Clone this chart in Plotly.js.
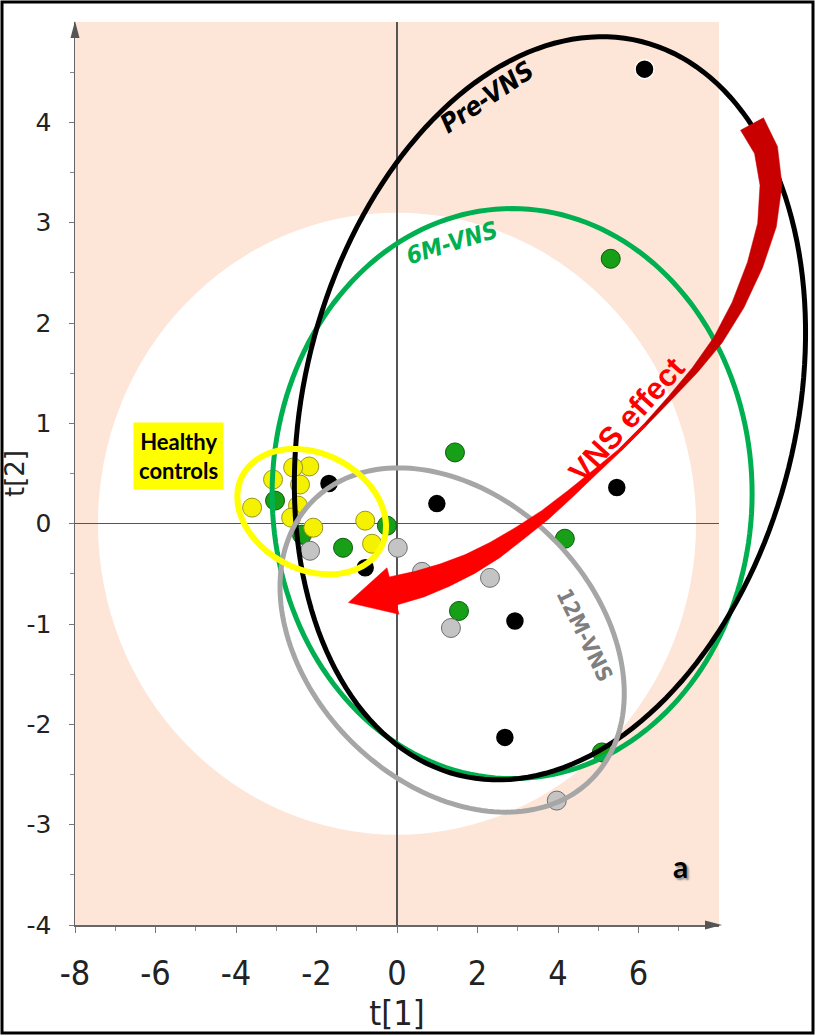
<!DOCTYPE html>
<html>
<head>
<meta charset="utf-8">
<script src="https://cdn.plot.ly/plotly-3.0.1.min.js"></script>
<style>
  html, body { margin: 0; padding: 0; background: #ffffff; }
  #chart { width: 815px; height: 1035px; }
</style>
</head>
<body>
<div id="chart"></div>
<script>
// PCA scores, t[1] vs t[2], per group
const preX  = [6.15, 5.46, 0.99, -1.69, -0.79, 2.93, 2.68];
const preY  = [4.53, 0.36, 0.20, 0.40, -0.44, -0.97, -2.13];
const m6X   = [5.31, 1.44, 4.17, 1.54, 5.09, -3.03, -2.36, -1.34, -0.25];
const m6Y   = [2.64, 0.71, -0.15, -0.87, -2.28, 0.23, -0.11, -0.24, -0.02];
const m12X  = [-2.16, 0.02, 0.62, 2.31, 1.34, 3.97];
const m12Y  = [-0.27, -0.24, -0.48, -0.54, -1.04, -2.76];
const hcX   = [-2.18, -2.58, -3.08, -2.41, -3.60, -2.46, -2.63, -2.08, -0.79, -0.62];
const hcY   = [0.57, 0.56, 0.44, 0.39, 0.16, 0.18, 0.06, -0.04, 0.03, -0.20];

const xTicks = [-8, -6, -4, -2, 0, 2, 4, 6];
const yTicks = [-4, -3, -2, -1, 0, 1, 2, 3, 4];

// Hotelling T2 ellipse half-widths (t[1], t[2])
const hotelling = [7.43, 3.1];

// ---- layout geometry ----
const W = 815, H = 1035;
const M = { l: 75, r: 96, t: 22, b: 110 };
const xRange = [-8, 8], yRange = [-4, 5];
const plotW = W - M.l - M.r, plotH = H - M.t - M.b;
const kx = plotW / (xRange[1] - xRange[0]);
const ky = plotH / (yRange[1] - yRange[0]);

// axis units -> paper units (lets outlines run past the plotting area)
function d2p(x, y) {
  return [(x - xRange[0]) / (xRange[1] - xRange[0]), (y - yRange[0]) / (yRange[1] - yRange[0])];
}
// screen position -> paper units
function p2p(px, py) {
  return [(px - M.l) / plotW, (H - M.b - py) / plotH];
}
// screen position -> axis units
function p2d(px, py) {
  return [xRange[0] + (px - M.l) / kx, yRange[1] - (py - M.t) / ky];
}

// rotated ellipse outline; centre in axis units, semi-axes in screen px, angle in degrees (ccw)
function ellipsePath(cx, cy, a, b, angDeg) {
  const th = angDeg * Math.PI / 180;
  let d = '';
  const n = 180;
  for (let i = 0; i <= n; i++) {
    const t = 2 * Math.PI * i / n;
    const dx = a * Math.cos(t) * Math.cos(th) - b * Math.sin(t) * Math.sin(th);
    const dy = a * Math.cos(t) * Math.sin(th) + b * Math.sin(t) * Math.cos(th);
    const p = d2p(cx + dx / kx, cy + dy / ky);
    d += (i === 0 ? 'M' : 'L') + p[0].toFixed(5) + ',' + p[1].toFixed(5);
  }
  return d + 'Z';
}

function polyPath(pts) {
  return pts.map((q, i) => {
    const p = p2p(q[0], q[1]);
    return (i === 0 ? 'M' : 'L') + p[0].toFixed(5) + ',' + p[1].toFixed(5);
  }).join('') + 'Z';
}

// tapered band along a screen-space centreline
function bandOutline(cl, wd) {
  const left = [], right = [];
  for (let i = 0; i < cl.length; i++) {
    const a = cl[Math.max(0, i - 1)], b = cl[Math.min(cl.length - 1, i + 1)];
    let tx = b[0] - a[0], ty = b[1] - a[1];
    const L = Math.hypot(tx, ty); tx /= L; ty /= L;
    const nx = -ty, ny = tx, h = wd[i] / 2;
    left.push([cl[i][0] + nx * h, cl[i][1] + ny * h]);
    right.push([cl[i][0] - nx * h, cl[i][1] - ny * h]);
  }
  return { left, right };
}

// "VNS effect" arrow centreline (screen px) and its width
const arrowLine = [[752,124],[766,150],[771,185],[767,225],[755,265],[738,305],[718,340],
                   [695,370],[670,398],[645,425],[620,450],[595,472],[570,494],[545,515],
                   [520,533],[495,550],[470,564],[445,575],[420,584],[393,591]];
const arrowWid  = [26,24,22,19,16,13,10,7,4.5,3,3,5,8,11,14,18,21,24,27,29];
const split = 10;

const shapes = [];
// white confidence region
shapes.push({ type: 'circle', xref: 'x', yref: 'y', layer: 'below',
  x0: -hotelling[0], x1: hotelling[0], y0: -hotelling[1], y1: hotelling[1],
  fillcolor: '#ffffff', line: { width: 0 } });

// group ellipses
const ring = (path, color, width) => ({ type: 'path', xref: 'paper', yref: 'paper', layer: 'above',
  path: path, line: { color: color, width: width } });
shapes.push(ring(ellipsePath(2.86, 0.30, 240, 285, 0), '#00b050', 5));
shapes.push(ring(ellipsePath(3.80, 1.15, 378, 246, 76), '#000000', 5));
shapes.push(ring(ellipsePath(1.37, -1.16, 197, 143, -45), '#a6a6a6', 5));
shapes.push(ring(ellipsePath(-2.12, 0.12, 78, 58, -27), '#ffff00', 6));

// curved arrow: dark upper part, bright lower part with head
{
  const o = bandOutline(arrowLine, arrowWid);
  const upper = o.left.slice(0, split + 1).concat(o.right.slice(0, split + 1).reverse());
  shapes.push({ type: 'path', xref: 'paper', yref: 'paper', layer: 'above',
    path: polyPath(upper), fillcolor: '#c80000', line: { color: '#c80000', width: 0.5 } });
  const n = arrowLine.length - 1;
  const end = arrowLine[n], prev = arrowLine[n - 1];
  let tx = end[0] - prev[0], ty = end[1] - prev[1];
  const L = Math.hypot(tx, ty); tx /= L; ty /= L;
  const nx = -ty, ny = tx;
  const tip = [end[0] + tx * 46, end[1] + ty * 46];
  const barbA = [end[0] + nx * 24, end[1] + ny * 24];
  const barbB = [end[0] - nx * 24, end[1] - ny * 24];
  const lower = o.left.slice(split - 1).concat([barbA, tip, barbB])
                  .concat(o.right.slice(split - 1).reverse());
  shapes.push({ type: 'path', xref: 'paper', yref: 'paper', layer: 'above',
    path: polyPath(lower), fillcolor: '#ff0000', line: { color: '#ff0000', width: 0.5 } });
}

// axis arrowheads
{
  const t1 = p2p(75, 21), t2 = p2p(70.5, 38), t3 = p2p(79.5, 38);
  shapes.push({ type: 'path', xref: 'paper', yref: 'paper',
    path: `M${t1[0]},${t1[1]}L${t2[0]},${t2[1]}L${t3[0]},${t3[1]}Z`,
    fillcolor: '#555555', line: { width: 0 } });
  const s1 = p2p(722, 925), s2 = p2p(705, 920.5), s3 = p2p(705, 929.5);
  shapes.push({ type: 'path', xref: 'paper', yref: 'paper',
    path: `M${s1[0]},${s1[1]}L${s2[0]},${s2[1]}L${s3[0]},${s3[1]}Z`,
    fillcolor: '#555555', line: { width: 0 } });
}

// outer frame
{
  const a = p2p(2, 2), b = p2p(813, 1033);
  shapes.push({ type: 'rect', xref: 'paper', yref: 'paper',
    x0: a[0], x1: b[0], y0: b[1], y1: a[1], line: { color: '#000000', width: 3 } });
}

function at(px, py) { const d = p2d(px, py); return { x: d[0], y: d[1] }; }
const narrow = 'DejaVu Sans Condensed, Liberation Sans, sans-serif';

const annotations = [
  Object.assign(at(178, 456), { text: '<b>Healthy<br>controls</b>', showarrow: false,
    bgcolor: '#ffff00', borderpad: 5, align: 'center',
    font: { family: 'Lato, Open Sans, sans-serif', size: 22, color: '#000' } }),
  Object.assign(at(487, 97), { text: '<b><i>Pre-VNS</i></b>', showarrow: false, textangle: -34,
    font: { family: narrow, size: 26, color: '#000' } }),
  Object.assign(at(452, 243), { text: '<b><i>6M-VNS</i></b>', showarrow: false, textangle: -17,
    font: { family: narrow, size: 24, color: '#00b050' } }),
  Object.assign(at(585, 635), { text: '<b>12M-VNS</b>', showarrow: false, textangle: 64,
    font: { family: narrow, size: 22, color: '#7f7f7f' } }),
  Object.assign(at(626, 420), { text: '<b>VNS effect</b>', showarrow: false, textangle: -48,
    font: { family: 'Liberation Sans, Arial, sans-serif', size: 31, color: '#ff0000' } }),
  Object.assign(at(680, 866), { text: '<b>a</b>', showarrow: false,
    font: { family: 'Lato, DejaVu Sans, sans-serif', size: 30, color: '#000',
            shadow: '2px 2px 2px #8a8a8a' } })
];

function pts(x, y, fill, edge, edgeW) {
  return { type: 'scatter', mode: 'markers', x: x, y: y, hoverinfo: 'skip',
    marker: { size: 19, color: fill, line: { color: edge, width: edgeW } } };
}

const traces = [
  pts(preX, preY, '#000000', '#ffffff', 1.5),
  pts(m6X, m6Y, '#17a017', '#0b5a0b', 1),
  pts(m12X, m12Y, '#c4c4c4', '#6e6e6e', 1),
  pts(hcX, hcY, '#f4f200', '#9a9618', 1)
];

const odd = []; for (let v = -7; v <= 7; v += 2) odd.push(v);
const half = []; for (let v = -3.5; v <= 4.5; v += 1) half.push(v);

const layout = {
  width: W, height: H,
  margin: M,
  paper_bgcolor: '#ffffff',
  plot_bgcolor: '#fde6d8',
  showlegend: false,
  xaxis: {
    range: xRange, showgrid: false, automargin: false, fixedrange: true,
    zeroline: true, zerolinecolor: '#555555', zerolinewidth: 1.5,
    showline: true, linecolor: '#666666', linewidth: 1.5,
    ticks: 'outside', ticklen: 6, tickcolor: '#777777', tickwidth: 1,
    tickvals: xTicks, ticktext: xTicks.map(v => String(v)),
    minor: { tickvals: odd, ticks: 'outside', ticklen: 4, tickcolor: '#888888' },
    tickfont: { family: narrow, size: 34, color: '#222' }, ticklabelstandoff: 12,
    title: { text: 't[1]', font: { family: narrow, size: 34, color: '#222' }, standoff: 0 }
  },
  yaxis: {
    range: yRange, showgrid: false, automargin: false, fixedrange: true,
    zeroline: true, zerolinecolor: '#555555', zerolinewidth: 1.5,
    showline: true, linecolor: '#666666', linewidth: 1.5,
    ticks: 'outside', ticklen: 5, tickcolor: '#777777', tickwidth: 1,
    tickvals: yTicks, ticktext: yTicks.map(v => String(v)),
    minor: { tickvals: half, ticks: 'outside', ticklen: 4, tickcolor: '#888888' },
    tickfont: { family: 'DejaVu Sans, sans-serif', size: 25, color: '#222' }, ticklabelstandoff: 12,
    title: { text: 't[2]', font: { family: 'DejaVu Sans, sans-serif', size: 26, color: '#222' }, standoff: 4 }
  },
  shapes: shapes,
  annotations: annotations
};

Plotly.newPlot('chart', traces, layout, { staticPlot: true, displayModeBar: false });
</script>
</body>
</html>
